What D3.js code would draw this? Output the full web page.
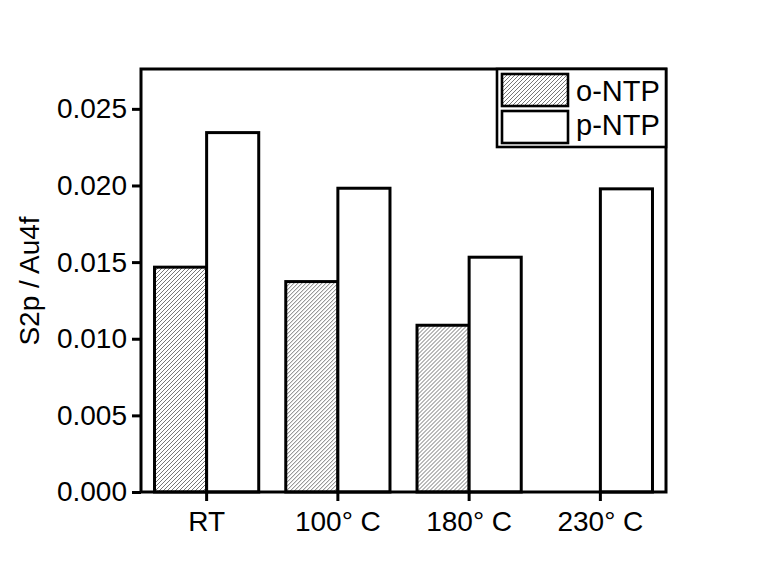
<!DOCTYPE html>
<html>
<head>
<meta charset="utf-8">
<script src="https://cdn.jsdelivr.net/npm/d3@7"></script>
<style>
  body { margin: 0; background: #fff; }
  text { font-family: "Liberation Sans", Arial, sans-serif; fill: #000; }
</style>
</head>
<body>
<svg id="chart"></svg>
<script>
const categories = ["RT", "100° C", "180° C", "230° C"];
const series = ["o-NTP", "p-NTP"];
const oNTP = [0.01467, 0.01373, 0.01088, null];
const pNTP = [0.02345, 0.01982, 0.01532, 0.01978];
const yTicks = [0, 0.005, 0.010, 0.015, 0.020, 0.025];

const margin = { top: 69, right: 101, bottom: 89, left: 141 },
      width = 767 - margin.left - margin.right,
      height = 581 - margin.top - margin.bottom;

const svgRoot = d3.select("#chart")
  .attr("width", 767)
  .attr("height", 581);

svgRoot.append("rect").attr("width", 767).attr("height", 581).attr("fill", "#fff");

// hatch pattern for o-NTP
const defs = svgRoot.append("defs");
defs.append("pattern")
  .attr("id", "hatch")
  .attr("patternUnits", "userSpaceOnUse")
  .attr("width", 4)
  .attr("height", 4)
  .append("path")
  .attr("d", "M-1,1 l2,-2 M0,4 l4,-4 M3,5 l2,-2")
  .attr("stroke", "#666")
  .attr("stroke-width", 0.9);

const svg = svgRoot.append("g")
  .attr("transform", `translate(${margin.left},${margin.top})`);

const data = categories.map((c, i) => ({ cat: c, values: [oNTP[i], pNTP[i]] }));

const x0 = d3.scaleBand()
  .domain(categories)
  .range([0, width])
  .padding(0);

const x1 = d3.scaleBand()
  .domain(series)
  .range([x0.bandwidth() * 0.103, x0.bandwidth() * 0.897]);

const y = d3.scaleLinear()
  .domain([0, 0.0276])
  .range([height, 0]);

const fills = { "o-NTP": "url(#hatch)", "p-NTP": "#fff" };

// bars
svg.selectAll("g.grp")
  .data(data)
  .enter()
  .append("g")
  .attr("class", "grp")
  .attr("transform", d => `translate(${x0(d.cat)},0)`)
  .selectAll("rect")
  .data(d => series.map((s, j) => ({ s, v: d.values[j] })).filter(e => e.v != null))
  .enter()
  .append("rect")
  .attr("x", d => x1(d.s))
  .attr("y", d => y(d.v))
  .attr("width", x1.bandwidth())
  .attr("height", d => height - y(d.v))
  .attr("fill", d => fills[d.s])
  .attr("stroke", "#000")
  .attr("stroke-width", 3);

// axes
const yAxis = svg.append("g")
  .call(d3.axisLeft(y).tickValues(yTicks).tickFormat(d3.format(".3f")).tickSize(9).tickPadding(5));
const xAxis = svg.append("g")
  .attr("transform", `translate(0,${height})`)
  .call(d3.axisBottom(x0).tickSize(9).tickPadding(10));

[yAxis, xAxis].forEach(a => {
  a.select(".domain").remove();
  a.selectAll("line").attr("stroke", "#000").attr("stroke-width", 3);
  a.selectAll("text").style("font-size", "28px").style("fill", "#000");
});

// frame
svg.append("rect")
  .attr("width", width)
  .attr("height", height)
  .attr("fill", "none")
  .attr("stroke", "#000")
  .attr("stroke-width", 3);

// y label
svgRoot.append("text")
  .attr("transform", "translate(39,281) rotate(-90)")
  .attr("text-anchor", "middle")
  .style("font-size", "28px")
  .text("S2p / Au4f");

// legend
const lg = svg.append("g").attr("transform", `translate(${width - 169},0)`);
lg.append("rect")
  .attr("width", 169)
  .attr("height", 78)
  .attr("fill", "#fff")
  .attr("stroke", "#000")
  .attr("stroke-width", 2.6);
series.forEach((s, i) => {
  lg.append("rect")
    .attr("x", 5)
    .attr("y", 5 + i * 37)
    .attr("width", 66)
    .attr("height", 32)
    .attr("fill", fills[s])
    .attr("stroke", "#000")
    .attr("stroke-width", 2.6);
  lg.append("text")
    .attr("x", 79)
    .attr("y", 32 + i * 34)
    .style("font-size", "29px")
    .text(s);
});
</script>
</body>
</html>
